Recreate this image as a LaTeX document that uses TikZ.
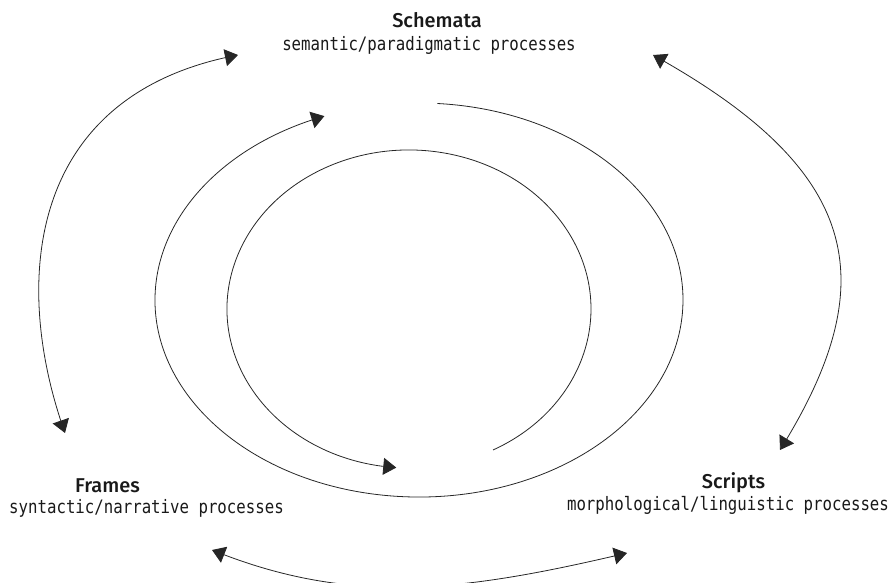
\documentclass[tikz,border=0pt]{standalone}
\usepackage{fontspec}
\usetikzlibrary{arrows.meta,bending}
\newfontfamily\titlef{Fira Sans Medium}
\newfontfamily\monof[FakeStretch=0.85]{DejaVu Sans Mono}
\tikzset{
  tip/.tip={Triangle[length=13pt,width=17pt]},
  conn/.style={draw=black!85, line width=0.8pt, -tip},
  both/.style={draw=black!85, line width=0.8pt, tip-tip},
  ttl/.style={font=\titlef\fontsize{20}{23}\selectfont, anchor=base, inner sep=0pt, text=black!90},
  sub/.style={font=\monof\fontsize{18.5}{22}\selectfont, anchor=base, inner sep=0pt, text=black!90},
}
\begin{document}
\begin{tikzpicture}[x=1pt,y=-1pt]
\useasboundingbox (0,0) rectangle (891,583);
% labels
\node[ttl] (schT) at (437,28) {Schemata};
\node[sub] (schS) at (429,51) {semantic/paradigmatic processes};
\node[ttl] (frT) at (107.5,492) {Frames};
\node[sub] (frS) at (146.5,513) {syntactic/narrative processes};
\node[ttl] (scT) at (733.5,488) {Scripts};
\node[sub] (scS) at (728,510) {morphological/linguistic processes};
% outer double arrows
\coordinate (lA) at (238,55);
\coordinate (lB) at (65,433);
\draw[both] (lB) .. controls (12,285) and (25,95) .. (lA);
\coordinate (rA) at (653,55);
\coordinate (rB) at (780,450);
\draw[both] (rA) .. controls (860,170) and (886,280) .. (rB);
\coordinate (bA) at (212,550);
\coordinate (bB) at (627,553);
\draw[both] (bA) .. controls (350,606) and (462,592) .. (bB);
% spiral arcs
\coordinate (iS) at (493,450);
\draw[conn] (iS) arc[start angle=62.5, end angle=-266, x radius=182, y radius=159];
\coordinate (oS) at (437.4,103.5);
\draw[conn] (oS) arc[start angle=-86, end angle=249, x radius=264, y radius=197];
\end{tikzpicture}
\end{document}
